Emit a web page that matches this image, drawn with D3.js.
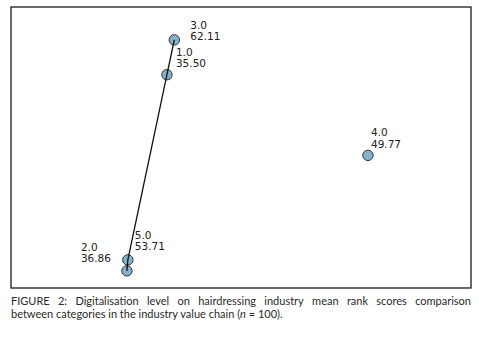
<!DOCTYPE html>
<html lang="en">
<head>
<meta charset="utf-8">
<script src="https://d3js.org/d3.v7.min.js"></script>
<style>
    body { margin: 0; background: #fff; }
    svg { display: block; }
</style>
</head>
<body>
<script>
    // value-chain categories and their mean rank scores
    var categories = ["1.0", "2.0", "3.0", "4.0", "5.0"];
    var meanRanks = [35.50, 36.86, 62.11, 49.77, 53.71];
    // map coordinates of each category (unit square)
    var mapX = [0.339, 0.252, 0.355, 0.776, 0.254];
    var mapY = [0.759, 0.061, 0.883, 0.472, 0.100];
    // path drawn between categories
    var linkOrder = ["3.0", "1.0", "5.0", "2.0"];

    var captionLines = [
        [{t: "FIGURE"}, {t: "2:"}, {t: "Digitalisation"}, {t: "level"}, {t: "on"}, {t: "hairdressing"},
         {t: "industry"}, {t: "mean"}, {t: "rank"}, {t: "scores"}, {t: "comparison"}],
        [{t: "between categories in the industry value chain ("}, {t: "n", i: true}, {t: " = 100)."}]
    ];

    var width = 479, height = 340;
    var frame = {left: 11, top: 7, right: 471, bottom: 288};

    // label placement relative to each point: [dx, dy of first line]
    var labelOffsets = {"1.0": [9, -19], "2.0": [-46, -20], "3.0": [16, -11], "4.0": [3, -19], "5.0": [7, -21]};

    var svg = d3.select("body").append("svg")
        .attr("width", width)
        .attr("height", height);

    svg.append("rect")
        .attr("x", frame.left)
        .attr("y", frame.top)
        .attr("width", frame.right - frame.left)
        .attr("height", frame.bottom - frame.top)
        .attr("fill", "none")
        .attr("stroke", "#1a1a1a")
        .attr("stroke-width", 1.3);

    var x = d3.scaleLinear().domain([0, 1]).range([frame.left, frame.right]);
    var y = d3.scaleLinear().domain([0, 1]).range([frame.bottom, frame.top]);

    var nodes = categories.map(function (c, i) {
        return {cat: c, score: meanRanks[i], x: mapX[i], y: mapY[i]};
    });
    var byCat = {};
    nodes.forEach(function (d) { byCat[d.cat] = d; });

    var line = d3.line()
        .x(function (d) { return x(d.x); })
        .y(function (d) { return y(d.y); });

    svg.selectAll("circle")
        .data(nodes)
        .enter()
        .append("circle")
        .attr("cx", function (d) { return x(d.x); })
        .attr("cy", function (d) { return y(d.y); })
        .attr("r", 5.2)
        .attr("fill", "#84b2cc")
        .attr("stroke", "#333")
        .attr("stroke-width", 1);

    // line drawn over circles, as in the reference
    svg.append("path")
        .datum(linkOrder.map(function (c) { return byCat[c]; }))
        .attr("d", line)
        .attr("fill", "none")
        .attr("stroke", "#111")
        .attr("stroke-width", 1.3);

    var labels = svg.selectAll("text.lbl")
        .data(nodes)
        .enter()
        .append("text")
        .attr("class", "lbl")
        .attr("font-family", "DejaVu Sans, Verdana, sans-serif")
        .attr("font-size", 10.5)
        .attr("fill", "#222")
        .attr("transform", function (d) {
            var o = labelOffsets[d.cat];
            return "translate(" + (x(d.x) + o[0]) + "," + (y(d.y) + o[1]) + ")";
        });
    labels.append("tspan").attr("x", 0).attr("y", 0).text(function (d) { return d.cat; });
    labels.append("tspan").attr("x", 0).attr("y", 11.5).text(function (d) { return d.score.toFixed(2); });

    // caption, first line justified to the frame width
    var cap = svg.append("g")
        .attr("font-family", "Lato, 'Open Sans', sans-serif")
        .attr("font-size", 11)
        .attr("fill", "#2a2a2a");

    var first = cap.selectAll("text.w")
        .data(captionLines[0])
        .enter()
        .append("text")
        .attr("class", "w")
        .attr("y", 305)
        .text(function (d) { return d.t; });
    var widths = [];
    first.each(function () { widths.push(this.getComputedTextLength()); });
    var gap = (frame.right - frame.left - d3.sum(widths)) / (widths.length - 1);
    var cx = frame.left;
    first.attr("x", function (d, i) {
        var p = cx;
        cx += widths[i] + gap;
        return p;
    });

    var second = cap.append("text")
        .attr("x", frame.left)
        .attr("y", 318);
    second.selectAll("tspan")
        .data(captionLines[1])
        .enter()
        .append("tspan")
        .attr("font-style", function (d) { return d.i ? "italic" : null; })
        .text(function (d) { return d.t; });
</script>
</body>
</html>
